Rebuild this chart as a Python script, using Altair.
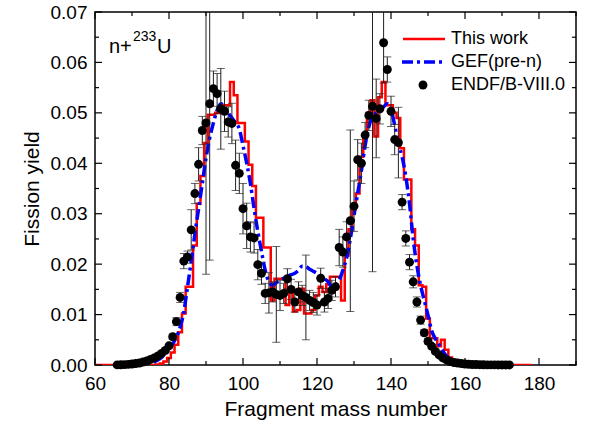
import altair as alt
import pandas as pd

# ---------------- data ----------------
A_this = list(range(60, 179))
Y_this = ([0.0] * 17 +  # 60-76
          [0.0001, 0.0003, 0.0007, 0.0014, 0.0025, 0.0040, 0.0065, 0.0102, 0.0155, 0.0155,  # 77-86
           0.0237, 0.0320, 0.0375, 0.0440, 0.0496, 0.0496, 0.0500, 0.0500, 0.0515, 0.0515,  # 87-96
           0.0561, 0.0535, 0.0480, 0.0480, 0.0443, 0.0397, 0.0355, 0.0292, 0.0292, 0.0233,  # 97-106
           0.0233, 0.0128, 0.0171, 0.0171, 0.0171, 0.0119, 0.0150, 0.0106, 0.0109, 0.0151,  # 107-116
           0.0102, 0.0102, 0.0109, 0.0138, 0.0155, 0.0145, 0.0160, 0.0175, 0.0175, 0.0175,  # 117-126
           0.0128, 0.0217, 0.0269, 0.0315, 0.0340, 0.0413, 0.0459, 0.0500, 0.0525, 0.0453,  # 127-136
           0.0531, 0.0561, 0.0515, 0.0515, 0.0500, 0.0490, 0.0430, 0.0368, 0.0368, 0.0269,  # 137-146
           0.0237, 0.0158, 0.0155, 0.0092, 0.0053, 0.0053, 0.0037, 0.0050, 0.0030, 0.0015,  # 147-156
           0.0010, 0.0006, 0.0004, 0.0002, 0.0001] +  # 157-161
          [0.0] * 17)  # 162-178

A_gef = list(range(70, 163))
Y_gef = [0.00005, 0.00008, 0.0001, 0.00015, 0.0002, 0.0003, 0.0006, 0.0010, 0.0015, 0.0022,  # 70-79
         0.0030, 0.0042, 0.0055, 0.0075, 0.0105, 0.0155, 0.0205, 0.0260, 0.0310, 0.0360,  # 80-89
         0.0410, 0.0450, 0.0480, 0.0505, 0.0518, 0.0512, 0.0500, 0.0490, 0.0480, 0.0468,  # 90-99
         0.0435, 0.0400, 0.0360, 0.0310, 0.0265, 0.0225, 0.0188, 0.0165, 0.0158, 0.0163,  # 100-109
         0.0168, 0.0172, 0.0176, 0.0179, 0.0182, 0.0188, 0.0196, 0.0195, 0.0190, 0.0186,  # 110-119
         0.0182, 0.0177, 0.0171, 0.0165, 0.0155, 0.0158, 0.0168, 0.0188, 0.0212, 0.0250,  # 120-129
         0.0296, 0.0341, 0.0385, 0.0435, 0.0472, 0.0492, 0.0500, 0.0505, 0.0512, 0.0518,  # 130-139
         0.0508, 0.0475, 0.0440, 0.0413, 0.0374, 0.0320, 0.0250, 0.0197, 0.0158, 0.0128,  # 140-149
         0.0099, 0.0068, 0.0052, 0.0040, 0.0028, 0.0018, 0.0012, 0.0008, 0.0005, 0.0003,  # 150-159
         0.0002, 0.0001, 0.00005]  # 160-162

A_endf = list(range(66, 173))
Y_endf = [0.00002, 0.00004, 0.00007, 0.00012, 0.0002, 0.0003, 0.0004, 0.0006, 0.0008, 0.0011,  # 66-75
          0.0014, 0.0018, 0.0023, 0.0029, 0.0038, 0.0056, 0.0086, 0.0134, 0.0206, 0.0214,  # 76-85
          0.0268, 0.0340, 0.0398, 0.0465, 0.0480, 0.0518, 0.0548, 0.0538, 0.0508, 0.0503,  # 86-95
          0.0482, 0.0479, 0.0396, 0.0380, 0.0310, 0.0276, 0.0254, 0.0252, 0.0199, 0.0182,  # 96-105
          0.0142, 0.0143, 0.0145, 0.0140, 0.0138, 0.0142, 0.0171, 0.0150, 0.0125, 0.0145,  # 106-115
          0.0138, 0.0134, 0.0128, 0.0124, 0.0119, 0.0172, 0.0125, 0.0132, 0.0148, 0.0155,  # 116-125
          0.0233, 0.0224, 0.0254, 0.0286, 0.0315, 0.0407, 0.0400, 0.0456, 0.0495, 0.0513,  # 126-135
          0.0489, 0.0508, 0.0639, 0.0586, 0.0503, 0.0447, 0.0441, 0.0323, 0.0251, 0.0204,  # 136-145
          0.0165, 0.0125, 0.0089, 0.0064, 0.0047, 0.0037, 0.0027, 0.0020, 0.0014, 0.0010,  # 146-155
          0.0007, 0.0005, 0.0004, 0.0003, 0.0002, 0.00015, 0.0001, 0.00008, 0.00006, 0.00004,  # 156-165
          0.00003, 0.00002, 0.00002, 0.00001, 0.00001, 0.00001, 0.00001]  # 166-172
E_endf = [0.0, 0.0, 0.0, 0.0, 0.00002, 0.00003, 0.00004, 0.00005, 0.00006, 0.0001,  # 66-75
          0.0001, 0.00015, 0.0002, 0.0003, 0.0004, 0.0005, 0.0008, 0.0010, 0.0015, 0.0012,  # 76-85
          0.0040, 0.0020, 0.0033, 0.0028, 0.0300, 0.0310, 0.0035, 0.0040, 0.0080, 0.0040,  # 86-95
          0.0030, 0.0040, 0.0050, 0.0040, 0.0050, 0.0045, 0.0030, 0.0030, 0.0030, 0.0022,  # 96-105
          0.0020, 0.0040, 0.0020, 0.0095, 0.0030, 0.0020, 0.0020, 0.0020, 0.0020, 0.0020,  # 106-115
          0.0020, 0.0084, 0.0020, 0.0020, 0.0020, 0.0020, 0.0020, 0.0020, 0.0020, 0.0020,  # 116-125
          0.0036, 0.0030, 0.0030, 0.0180, 0.0050, 0.0040, 0.0040, 0.0025, 0.0030, 0.0328,  # 126-135
          0.0078, 0.0030, 0.0080, 0.0025, 0.0030, 0.0030, 0.0070, 0.0015, 0.0015, 0.0015,  # 136-145
          0.0012, 0.0010, 0.0008, 0.0006, 0.0005, 0.0004, 0.0003, 0.0002, 0.0002, 0.0001,  # 146-155
          0.0001, 0.00008, 0.00006, 0.00005, 0.00004, 0.00003, 0.00002, 0.0, 0.0, 0.0,  # 156-165
          0.0, 0.0, 0.0, 0.0, 0.0, 0.0, 0.0]  # 166-172

x_major = [60, 80, 100, 120, 140, 160, 180]
x_minor = [70, 90, 110, 130, 150, 170, 190]
y_major = [0.0, 0.01, 0.02, 0.03, 0.04, 0.05, 0.06, 0.07]
y_minor = [0.005, 0.015, 0.025, 0.035, 0.045, 0.055, 0.065]

legend_labels = ["This work", "GEF(pre-n)", "ENDF/B-VIII.0"]

# ---------------- chart ----------------
FONT = "Liberation Sans"
W, H = 481, 353
xs = alt.Scale(domain=[60, 190], nice=False, zero=False)
ys = alt.Scale(domain=[0, 0.07], nice=False)

df_this = pd.DataFrame({"A": A_this, "Y": Y_this})
df_gef = pd.DataFrame({"A": A_gef, "Y": Y_gef})
df_endf = pd.DataFrame({"A": A_endf, "Y": Y_endf, "E": E_endf})
df_endf["lo"] = df_endf["Y"] - df_endf["E"]
df_endf["hi"] = df_endf["Y"] + df_endf["E"]
df_err = df_endf[df_endf["E"] > 0.00015].copy()

xaxis = alt.Axis(values=x_major, format="d", title="Fragment mass number", ticks=False, domain=False,
                 grid=False, labelFontSize=19, labelFont=FONT, labelColor="black", labelPadding=9,
                 labelFlush=False, labelOverlap=False,
                 titleFontSize=21, titleFont=FONT, titleFontWeight="normal", titleColor="black",
                 titlePadding=5)
yaxis = alt.Axis(values=y_major, format=".2f", title="Fission yield", ticks=False, domain=False,
                 grid=False, labelFontSize=19, labelFont=FONT, labelColor="black", labelPadding=8,
                 labelFlush=False, labelOverlap=False,
                 titleFontSize=21, titleFont=FONT, titleFontWeight="normal", titleColor="black",
                 titlePadding=8)

red = alt.Chart(df_this).mark_line(color="#ff0000", strokeWidth=2.5, interpolate="step", clip=True).encode(
    x=alt.X("A:Q", scale=xs, axis=xaxis),
    y=alt.Y("Y:Q", scale=ys, axis=yaxis),
)
blue = alt.Chart(df_gef).mark_line(color="#0000ff", strokeWidth=3.5, strokeDash=[11, 4, 3, 4],
                                   interpolate="monotone", clip=True).encode(
    x=alt.X("A:Q", scale=xs), y=alt.Y("Y:Q", scale=ys))
err = alt.Chart(df_err).mark_rule(color="#222222", strokeWidth=1, clip=True).encode(
    x=alt.X("A:Q", scale=xs), y=alt.Y("lo:Q", scale=ys), y2="hi:Q")
cap_lo = alt.Chart(df_err).mark_tick(color="#222222", thickness=1, size=8, orient="horizontal", clip=True).encode(
    x=alt.X("A:Q", scale=xs), y=alt.Y("lo:Q", scale=ys))
cap_hi = alt.Chart(df_err).mark_tick(color="#222222", thickness=1, size=8, orient="horizontal", clip=True).encode(
    x=alt.X("A:Q", scale=xs), y=alt.Y("hi:Q", scale=ys))
pts = alt.Chart(df_endf).mark_circle(color="black", size=80, opacity=1).encode(
    x=alt.X("A:Q", scale=xs), y=alt.Y("Y:Q", scale=ys))

# inward ticks on all four sides
dxM = pd.DataFrame({"v": x_major})
dxm = pd.DataFrame({"v": x_minor})
dyM = pd.DataFrame({"v": y_major})
dym = pd.DataFrame({"v": y_minor})
tk = []
for d, L in ((dxM, 7), (dxm, 4)):
    tk.append(alt.Chart(d).mark_rule(color="black", strokeWidth=1.2).encode(
        x=alt.X("v:Q", scale=xs), y=alt.value(H), y2=alt.value(H - L)))
    tk.append(alt.Chart(d).mark_rule(color="black", strokeWidth=1.2).encode(
        x=alt.X("v:Q", scale=xs), y=alt.value(0), y2=alt.value(L)))
for d, L in ((dyM, 7), (dym, 4)):
    tk.append(alt.Chart(d).mark_rule(color="black", strokeWidth=1.2).encode(
        y=alt.Y("v:Q", scale=ys), x=alt.value(0), x2=alt.value(L)))
    tk.append(alt.Chart(d).mark_rule(color="black", strokeWidth=1.2).encode(
        y=alt.Y("v:Q", scale=ys), x=alt.value(W), x2=alt.value(W - L)))

# legend (drawn manually)
lg_red = alt.Chart(pd.DataFrame({"k": [0]})).mark_rule(color="#ff0000", strokeWidth=2.5).encode(
    x=alt.value(308), x2=alt.value(350), y=alt.value(27))
lg_blue = alt.Chart(pd.DataFrame({"k": [0]})).mark_rule(color="#0000ff", strokeWidth=3.5,
                                                        strokeDash=[11, 4, 3, 4]).encode(
    x=alt.value(307), x2=alt.value(350), y=alt.value(50))
lg_pt = alt.Chart(pd.DataFrame({"k": [0]})).mark_circle(color="black", size=80, opacity=1).encode(
    x=alt.value(328), y=alt.value(73))
lg_txt = [alt.Chart(pd.DataFrame({"t": [legend_labels[i]]})).mark_text(
    align="left", baseline="middle", fontSize=18, font=FONT, color="black").encode(
    text="t:N", x=alt.value(356), y=alt.value(27 + 23 * i)) for i in range(3)]

# n+233U annotation
ann = [
    alt.Chart(pd.DataFrame({"t": ["n+"]})).mark_text(align="left", baseline="alphabetic", fontSize=20,
                                                     font=FONT, color="black").encode(
        text="t:N", x=alt.value(14), y=alt.value(41)),
    alt.Chart(pd.DataFrame({"t": ["233"]})).mark_text(align="left", baseline="alphabetic", fontSize=14,
                                                      font=FONT, color="black").encode(
        text="t:N", x=alt.value(38), y=alt.value(29)),
    alt.Chart(pd.DataFrame({"t": ["U"]})).mark_text(align="left", baseline="alphabetic", fontSize=20,
                                                    font=FONT, color="black").encode(
        text="t:N", x=alt.value(62), y=alt.value(41)),
]

chart = alt.layer(red, blue, err, cap_lo, cap_hi, pts, *tk, lg_red, lg_blue, lg_pt, *lg_txt, *ann).properties(
    width=W, height=H,
    padding={"left": 95, "top": 12, "right": 14, "bottom": 60},
    autosize=alt.AutoSizeParams(type="none"),
    background="white",
).configure_view(stroke="black", strokeWidth=1.5)

chart.save("out.html", embed_options={"renderer": "svg", "actions": False})
